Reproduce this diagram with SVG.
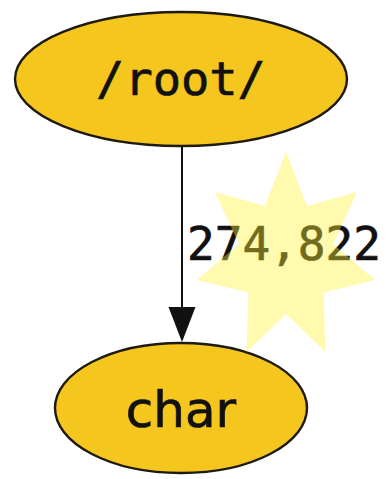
<svg xmlns="http://www.w3.org/2000/svg" width="389" height="479" viewBox="0 0 389 479">
  <style>
    .node ellipse { fill: #f4c61e; stroke: #1e1a10; stroke-width: 2.4; }
    .mono { font-family: "DejaVu Sans Mono", "Liberation Mono", monospace; fill: #111; stroke: #111; stroke-width: 0.7; }
    .round { font-family: "DejaVu Sans", "Noto Sans", sans-serif; fill: #111; stroke: #111; stroke-width: 0.7; }
    .edge { stroke: #111; stroke-width: 2; fill: none; }
  </style>
  <rect width="389" height="479" fill="#ffffff"/>

  <g id="root" class="node">
    <ellipse cx="181" cy="79" rx="166" ry="67"/>
    <text class="mono" x="181" y="95" font-size="47" text-anchor="middle">/root/</text>
  </g>

  <g id="char" class="node">
    <ellipse cx="181" cy="408" rx="126" ry="65"/>
    <text class="round" x="181" y="427" font-size="50" text-anchor="middle">char</text>
  </g>

  <g id="connectors">
    <line class="edge" x1="182" y1="146" x2="182" y2="308"/>
    <polygon points="168.5,307 195.5,307 182,342" fill="#111"/>
    <text class="mono" x="187" y="260" font-size="46">274,822</text>
  </g>

  <!-- seven-pointed highlight burst over the edge count -->
  <polygon fill="#fff232" fill-opacity="0.4"
    points="286,152 307,206 357,192 333,244 375,280 323.5,292.5 325.5,352 286,314 246.5,352 248.5,292.5 197,280 239,244 215,192 265,206"/>
</svg>
